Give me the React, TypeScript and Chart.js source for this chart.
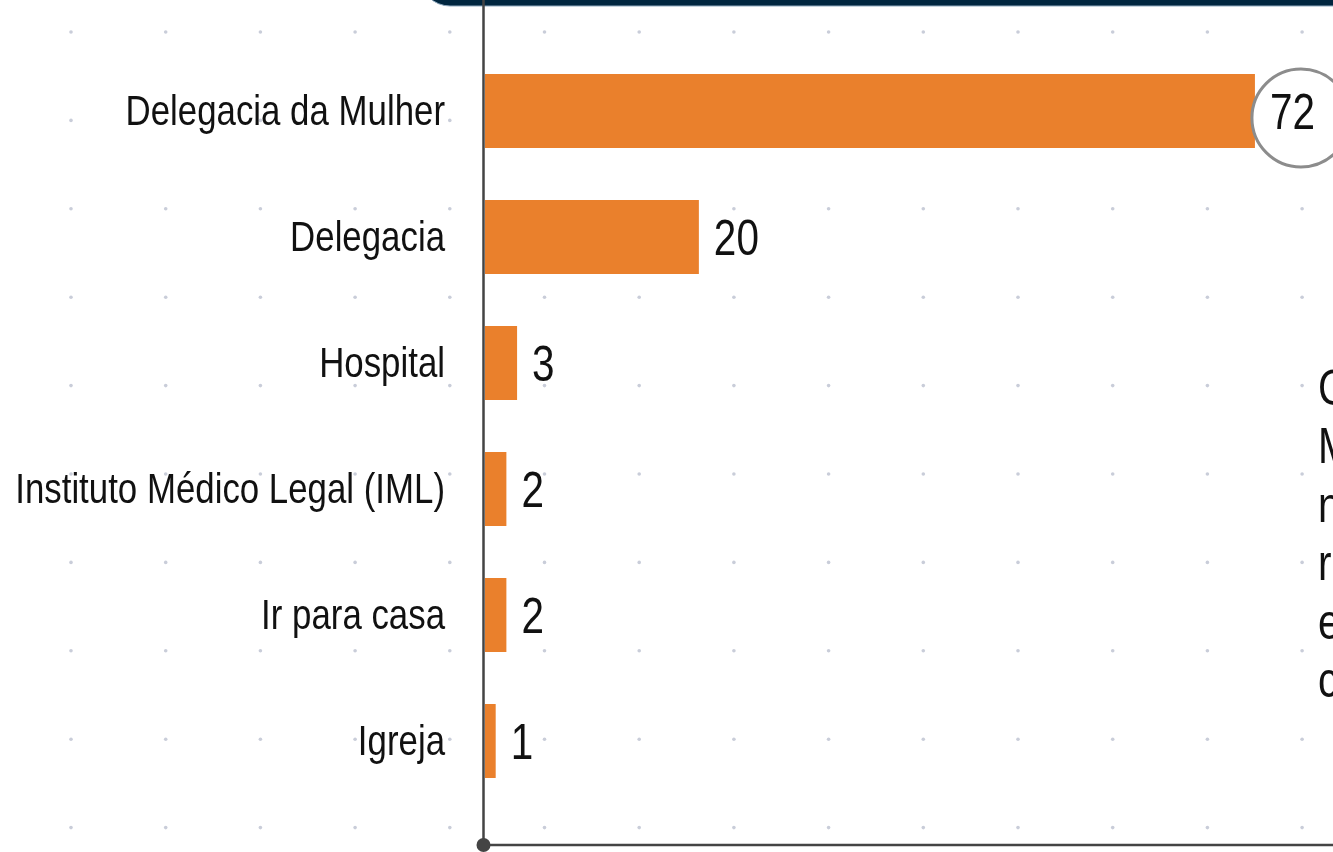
import React, { useEffect, useRef } from "react";
import { Chart, registerables } from "chart.js";

Chart.register(...registerables);

const categories = [
  "Delegacia da Mulher",
  "Delegacia",
  "Hospital",
  "Instituto Médico Legal (IML)",
  "Ir para casa",
  "Igreja",
];
const values = [72, 20, 3, 2, 2, 1];
const sideTextLines = ["Cerca de", "Mulheres", "nos", "recorreram", "em", "casos"];

const FONT = "'Liberation Sans', Arial, sans-serif";
const NARROW = 0.81;
const BAR_COLOR = "#EA802C";

function narrowText(ctx: any, text: string, x: number, y: number, align: string) {
  ctx.save();
  ctx.translate(x, y);
  ctx.scale(NARROW, 1);
  ctx.textAlign = align;
  ctx.fillText(text, 0, 0);
  ctx.restore();
}

const decorPlugin = {
  id: "decor",
  beforeDraw(chart: any) {
    const ctx = chart.ctx;
    ctx.save();
    ctx.fillStyle = "#ffffff";
    ctx.fillRect(0, 0, chart.width, chart.height);
    // dotted background grid
    ctx.fillStyle = "#c9cdd9";
    for (let j = 0; j < 10; j++) {
      const y = 32 + 88.4 * j;
      for (let k = 0; k < 15; k++) {
        const x = 71 + 94.7 * k;
        ctx.beginPath();
        ctx.arc(x, y, 1.8, 0, Math.PI * 2);
        ctx.fill();
      }
    }
    // navy header card bottom edge
    ctx.fillStyle = "#00263F";
    ctx.strokeStyle = "#8fa9bf";
    ctx.lineWidth = 1;
    ctx.beginPath();
    ctx.roundRect(420, -200, 1200, 206, 30);
    ctx.fill();
    ctx.stroke();

    // category labels
    const ys = chart.scales.y;
    ctx.fillStyle = "#111111";
    ctx.font = `43px ${FONT}`;
    ctx.textBaseline = "alphabetic";
    categories.forEach((c, i) => {
      const y = ys.getPixelForTick(i);
      narrowText(ctx, c, 445, y + 14, "right");
    });
    ctx.restore();
  },
  afterDatasetsDraw(chart: any) {
    const ctx = chart.ctx;
    const meta = chart.getDatasetMeta(0);
    const xs = chart.scales.x;
    const left = xs.getPixelForValue(0) - 1.5;
    const axisBottom = 845;
    ctx.save();
    // axes
    ctx.strokeStyle = "#444444";
    ctx.lineWidth = 2.5;
    ctx.beginPath();
    ctx.moveTo(left, 0);
    ctx.lineTo(left, axisBottom);
    ctx.lineTo(chart.width, axisBottom);
    ctx.stroke();
    ctx.fillStyle = "#444444";
    ctx.beginPath();
    ctx.arc(left, axisBottom, 7, 0, Math.PI * 2);
    ctx.fill();

    // value labels
    const maxVal = Math.max(...values);
    ctx.font = `50px ${FONT}`;
    ctx.textBaseline = "alphabetic";
    meta.data.forEach((bar: any, i: number) => {
      const v = values[i];
      const x = bar.x;
      const y = bar.y;
      if (v === maxVal) {
        ctx.beginPath();
        ctx.arc(x + 46, y + 7, 49, 0, Math.PI * 2);
        ctx.fillStyle = "#ffffff";
        ctx.fill();
        ctx.strokeStyle = "#8c8c8c";
        ctx.lineWidth = 3;
        ctx.stroke();
      }
      ctx.fillStyle = "#111111";
      narrowText(ctx, String(v), x + 15, y + 18, "left");
    });

    // side text (partially out of view)
    ctx.fillStyle = "#111111";
    sideTextLines.forEach((t, i) => {
      narrowText(ctx, t, 1318, 405 + i * 58.4, "left");
    });
    ctx.restore();
  },
};

export default function App() {
  const ref = useRef<HTMLCanvasElement | null>(null);
  useEffect(() => {
    document.body.style.margin = "0";
    const canvas = ref.current!;
    const chart = new Chart(canvas, {
      type: "bar",
      data: {
        labels: categories,
        datasets: [
          {
            data: values,
            backgroundColor: BAR_COLOR,
            borderWidth: 0,
            barPercentage: 0.587,
            categoryPercentage: 1,
          },
        ],
      },
      options: {
        indexAxis: "y",
        animation: false,
        responsive: false,
        maintainAspectRatio: false,
        layout: { padding: { top: 48, bottom: 48, left: 0, right: 0 } },
        plugins: {
          legend: { display: false },
          tooltip: { enabled: false },
        },
        scales: {
          x: {
            display: false,
            min: 0,
            max: 79.3,
          },
          y: {
            afterFit: (scale: any) => {
              scale.width = 485;
            },
            grid: { display: false, drawTicks: false },
            border: { display: false },
            ticks: { display: false },
          },
        },
      },
      plugins: [decorPlugin],
    });
    return () => chart.destroy();
  }, []);
  return (
    <div style={{ width: 1333, height: 852, overflow: "hidden" }}>
      <canvas ref={ref} width={1333} height={852} style={{ display: "block" }} />
    </div>
  );
}
